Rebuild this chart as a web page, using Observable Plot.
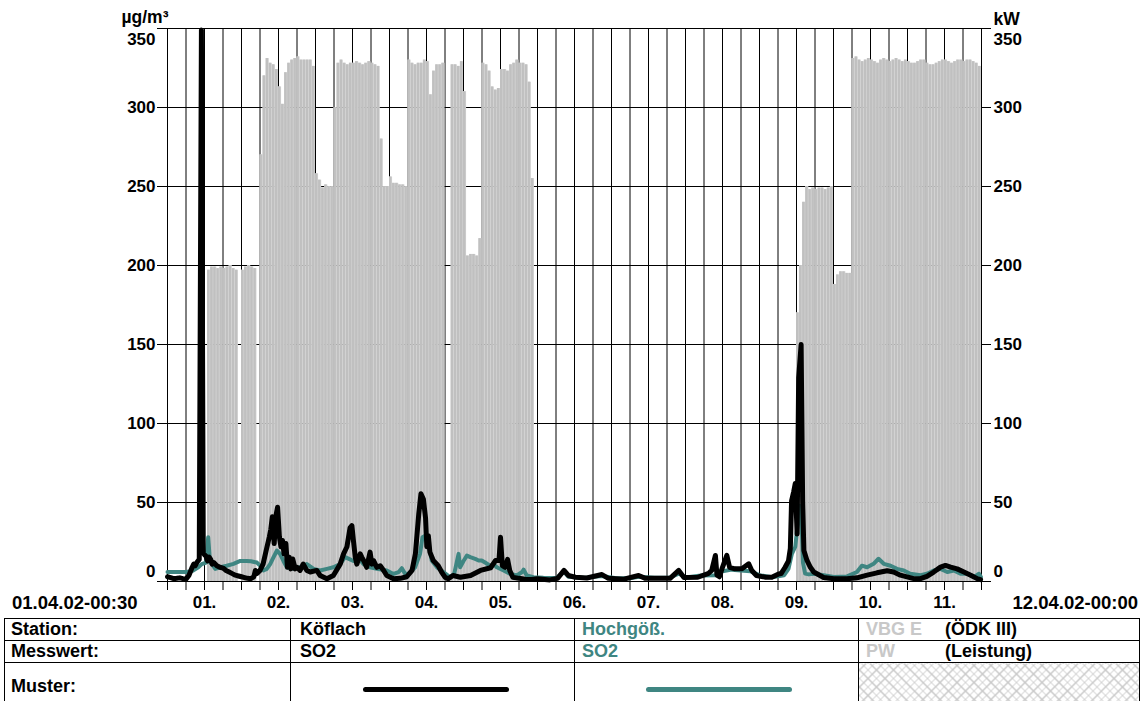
<!DOCTYPE html>
<html>
<head>
<meta charset="utf-8">
<script src="https://cdn.jsdelivr.net/npm/d3@7"></script>
<script src="https://cdn.jsdelivr.net/npm/@observablehq/plot@0.6"></script>
<style>
  html, body { margin: 0; padding: 0; background: #fff; }
  body { width: 1142px; height: 701px; overflow: hidden; position: relative; font-family: "Liberation Sans", Arial, sans-serif; }
  #chart { position: absolute; left: 0; top: 0; }
  table.leg { position: absolute; left: 4px; top: 618px; border-collapse: collapse; table-layout: fixed; width: 1135px; font-weight: bold; font-size: 18px; }
  table.leg td { border: 1px solid #000; padding: 0 0 0 6px; height: 21px; line-height: 21px; white-space: nowrap; overflow: hidden; }
  table.leg td.c2 { padding-left: 9px; }
  table.leg td.c3 { padding-left: 7px; }
  table.leg td.c4 { padding-left: 7px; }
  table.leg tr.last td { height: 44px; }
  .teal { color: #3f8682; }
  .gray { color: #c8c8c8; display: inline-block; width: 79px; }
  .sample { height: 5px; width: 146px; border-radius: 3px; position: relative; top: -3px; }
  .hatch { background:
      repeating-linear-gradient(45deg, #c8c8c8 0 1px, transparent 1px 6px),
      repeating-linear-gradient(-45deg, #c8c8c8 0 1px, transparent 1px 6px); }
</style>
</head>
<body>
<div id="chart"></div>
<table class="leg">
  <colgroup><col style="width:286px"><col style="width:284px"><col style="width:284px"><col style="width:281px"></colgroup>
  <tr><td>Station:</td><td class="c2">Köflach</td><td class="c3 teal">Hochgöß.</td><td class="c4"><span class="gray">VBG E</span>(ÖDK III)</td></tr>
  <tr><td>Messwert:</td><td class="c2">SO2</td><td class="c3 teal">SO2</td><td class="c4"><span class="gray">PW</span>(Leistung)</td></tr>
  <tr class="last"><td style="vertical-align:top;padding-top:14px;line-height:18px">Muster:</td><td><div class="sample" style="background:#000;margin-left:66px"></div></td><td><div class="sample" style="background:#3f8682;margin-left:65px"></div></td><td class="hatch"></td></tr>
</table>
<script>
// ---------- data ----------
// hourly power of VBG E (ÖDK III), kW; index = hour since 01.04.02 00:00
const pwDay01 = [0,0,0,0,0,0,0,0,0,0,0,0,0,197,199,199,198,199,198,199,200,198,197,0];
const pwDay02 = [197,199,200,199,198,0,270,320,331,328,327,324,313,302,322,328,330,331,332,330,330,330,330,326];
const pwDay03 = [258,254,249,251,250,250,300,328,330,328,327,328,328,329,328,327,328,329,328,327,326,280,250,250];
const pwDay04 = [256,252,252,251,251,250,330,328,327,328,328,330,329,308,323,327,327,328,0,0,327,327,326,329];
const pwDay05 = [310,206,207,207,206,217,328,327,323,313,311,312,324,324,323,327,328,330,328,328,327,316,255,0];
const pwDay06 = [0,0,0,0,0,0,0,0,0,0,0,0,0,0,0,0,0,0,0,0,0,0,0,0];
const pwDay07 = [0,0,0,0,0,0,0,0,0,0,0,0,0,0,0,0,0,0,0,0,0,0,0,0];
const pwDay08 = [0,0,0,0,0,0,0,0,0,0,0,0,0,0,0,0,0,0,0,0,0,0,0,0];
const pwDay09 = [0,0,0,0,0,0,0,0,0,0,0,0,170,200,240,250,248,249,248,249,249,248,249,250];
const pwDay10 = [188,194,196,196,195,195,331,332,330,329,330,331,330,329,328,330,331,330,329,330,331,330,329,330];
const pwDay11 = [329,328,328,329,330,330,328,327,327,328,329,330,330,329,328,329,330,330,329,330,330,329,328,326];

// SO2 Köflach, µg/m³: [hour, value]
const koeflach = [
 [0,3],[1,2.5],[2,1.8],[3,2],[4,2.3],[5,1.8],[6,1.5],[7,4],[8,9],[8.5,11],[9,10],[9.5,12],[10.3,14],[11,349],[11.6,18],
 [12,17],[12.5,16],[13,13],[13.5,15.5],[14,14],[14.5,11],[15,12],[16,10],[17,9],[18,8.5],[19,7],[20,6],[21,5],[22,4],[23,3.5],
 [24,3],[25,2.5],[26,2],[27,1.8],[28,3],[28.5,7],[29,5],[29.5,6],[30,7],[31,11],[32,19.6],[33,28],[33.5,33],[34,41],[34.6,24],
 [35.2,42],[35.7,47],[36.3,28],[36.8,22],[37.3,26],[37.8,17.5],[38.4,24],[38.9,9],[39.5,15.4],[40,8],[40.6,14.3],[41.4,8],
 [42,9],[43,7],[44,11],[45.2,7],[46.3,6],[48.4,7],[49.5,3.8],[51.7,1.7],[53.8,3.8],[56,11],[57.1,17.5],[58.2,22],[59.2,34],
 [59.8,35.4],[60.3,26],[60.9,15.4],[61.4,11],[62.5,17.5],[63,15.4],[63.6,13.3],[64.6,9],[65.7,18.6],[66.3,11],[66.8,13.3],
 [67.9,9],[69,10],[70.1,7],[71.1,3.8],[73.3,1.7],[75.5,2],[77.6,3],[79.3,7],[80.4,17.5],[81.5,43],[82.2,55.5],[83,52],
 [83.7,40],[84.1,22],[84.6,29],[85.1,18.6],[86.2,13.3],[87.8,10],[88.9,6],[90,2.7],[91,1.7],[92.6,3.8],[95,2.7],[98.3,3.8],
 [101.5,7],[104.8,8.7],[106.4,13.3],[107.5,13.3],[108,28],[108.6,10],[109.5,9],[110.3,14],[111,7],[112,2.7],[114,2],
 [116,1.5],[118,1.2],[120,1.7],[124,1],[126.5,2],[128.6,7],[130,3.8],[132.3,2.7],[136,2.2],[140.9,4.4],[143,2],[148,1.5],
 [152.8,3.8],[155,2],[160,2],[163,2],[165.8,7],[167.5,2.5],[172,2.7],[175.5,5.2],[176.5,7],[177.7,16.5],[178.2,4],[179,3],
 [180,9],[181.4,16.5],[182.3,9],[184,8],[186.3,8],[188.5,11.2],[189.5,7],[191,3.8],[194,2.7],[196,2.7],[198.2,4.8],[199,5],
 [200.3,9],[201.4,13],[202,21],[202.4,51],[203.1,57],[203.6,62],[204.2,30],[204.7,129],[205.5,150],[206,50],[206.4,19.6],
 [207.4,13.3],[208.5,9],[209.6,6],[212.8,2.5],[216.1,1.8],[220.4,1.8],[223.6,2.3],[226.9,4],[230.1,5.5],[233.4,6.8],
 [235.5,6],[237.7,4],[242,1.8],[244.2,1.8],[246.3,3.3],[248.5,6],[250.7,9.1],[252.3,10.2],[254,9.1],[256.1,8],[258.3,6],
 [260.5,4],[262.6,1.8],[263.7,1.2]
];

// SO2 Hochgößnitz, µg/m³: [hour, value]
const hochgoess = [
 [0,6],[3,6],[6.3,6],[8.4,7],[10,9],[11.1,11],[12.5,12],[13.2,28],[13.8,12],[14.4,11],[15.5,8],[17.1,9],[19.2,10],[21.4,11.2],
 [23.6,13],[25.7,13],[27,12.8],[29,12],[30,10],[31.1,7],[32.2,8],[33.3,11],[34.4,15.4],[35.5,19.6],[36.5,17.5],[37.6,13],
 [38.7,9],[40.9,8],[43,9],[45.2,11],[47.4,8],[49.5,7],[51.7,8],[53.8,9],[56,11],[57.6,15.4],[59.2,14],[60.3,13],[61.9,15],
 [63.6,11],[65.7,9],[67.9,8],[71.1,7],[73.3,4.8],[75,6],[76,8.4],[77,5],[78.2,4.8],[80.3,9],[81.9,17.5],[82.7,28],[83.6,29],
 [84.6,24],[85.7,13.3],[87.4,9],[89.5,6],[91.7,2.7],[93,5],[93.8,12],[94.4,17.5],[94.9,9],[96,13],[97.1,16.4],[98.2,15.4],
 [99.8,14.3],[100.9,13.3],[101.9,13.3],[103,12],[104.6,10],[105.7,11],[106.8,9],[109,7],[111.2,4.8],[113.3,3.8],[115,6],
 [115.5,7.5],[116.5,3.8],[118.7,2.7],[121.9,2.3],[126,2.2],[128.6,6],[130,3],[135,2.3],[140.9,3.5],[145,2.2],[150,2],
 [152.8,3],[158,2.3],[163,2.5],[165.8,5],[168,2.5],[173,3.8],[177.7,4],[180,6.5],[183,7.5],[186,7],[189,6.5],[192,4],
 [196,2.7],[200,4],[201.4,8],[202.5,17.5],[203.6,22],[204.3,35],[205,48],[205.6,40],[206.1,12],[206.8,5],[208,4.5],
 [209.6,4.9],[212.8,4],[216.1,2.8],[220.4,3.2],[223.6,6],[225.2,10],[226.9,9],[229,11.2],[230.6,14.4],[232.3,11.2],
 [234.5,10],[236.6,8],[238.8,7],[240.9,4.9],[244.2,4],[246.3,4.9],[248.5,7],[250.7,8],[252.9,6],[255,7],[257.2,4.9],
 [259.4,4.9],[261.5,2.8],[263.2,4.9],[263.8,2.8]
];

// tick labels
const yTicks = [0, 50, 100, 150, 200, 250, 300, 350];
const dayLabels = ["01.", "02.", "03.", "04.", "05.", "06.", "07.", "08.", "09.", "10.", "11."];
const startLabel = "01.04.02-00:30";
const endLabel = "12.04.02-00:00";
const leftUnit = "µg/m³";
const rightUnit = "kW";

// ---------- build ----------
const pw = [].concat(pwDay01, pwDay02, pwDay03, pwDay04, pwDay05, pwDay06, pwDay07, pwDay08, pwDay09, pwDay10, pwDay11)
  .map((v, h) => ({h, v})).filter(d => d.v > 0);
const koef = koeflach.map(([h, v]) => ({h, v}));
const hoch = hochgoess.map(([h, v]) => ({h, v}));
const totalHours = 264;
const gridX = d3.range(0, totalHours + 1, 6);
const noon = dayLabels.map((_, i) => 12 + 24 * i);
const dayLabelOf = new Map(noon.map((h, i) => [h, dayLabels[i]]));
const midTicks = yTicks.slice(1, -1);
const font = {fontSize: 17, fontWeight: "bold", label: null};
const dateFont = {fontSize: 18.5, fontWeight: "bold", label: null};
const teal = "#3f8682";

const chart = Plot.plot({
  width: 1142,
  height: 618,
  marginLeft: 167,
  marginRight: 161,
  marginTop: 28,
  marginBottom: 37,
  style: {fontFamily: "'Liberation Sans', Arial, sans-serif", fontSize: "17px", fontWeight: "bold", color: "#000", background: "#fff", overflow: "visible"},
  x: {domain: [0, totalHours], label: null},
  y: {domain: [0, 350], label: null},
  marks: [
    Plot.ruleX(gridX, {stroke: "#000", strokeWidth: 1}),
    Plot.ruleY(yTicks, {stroke: "#000", strokeWidth: 1}),
    Plot.rectY(pw, {x1: "h", x2: d => d.h + 1, y: "v", fill: "#d2d2d2"}),
    Plot.rectY(pw, {x1: "h", x2: d => d.h + 1, y: "v", fill: "#c0c0c0", insetRight: 0.7}),
    Plot.line(hoch, {x: "h", y: "v", stroke: teal, strokeWidth: 4, strokeLinejoin: "round", strokeLinecap: "round"}),
    Plot.line(koef, {x: "h", y: "v", stroke: "#000", strokeWidth: 5, strokeLinejoin: "round", strokeLinecap: "round"}),
    // y axes: tick marks
    Plot.axisY({anchor: "left", ticks: yTicks, tickSize: 10, tickFormat: () => "", stroke: "#000", label: null}),
    Plot.axisY({anchor: "right", ticks: yTicks, tickSize: 9, tickFormat: () => "", stroke: "#000", label: null}),
    // y axes: labels
    Plot.axisY({anchor: "left", ticks: midTicks, tickSize: 0, tickPadding: 12, ...font}),
    Plot.axisY({anchor: "left", ticks: [350], tickSize: 0, tickPadding: 12, dy: 11, ...font}),
    Plot.axisY({anchor: "left", ticks: [0], tickSize: 0, tickPadding: 12, dy: -10, ...font}),
    Plot.axisY({anchor: "right", ticks: midTicks, tickSize: 0, tickPadding: 12, ...font}),
    Plot.axisY({anchor: "right", ticks: [350], tickSize: 0, tickPadding: 12, dy: 11, ...font}),
    Plot.axisY({anchor: "right", ticks: [0], tickSize: 0, tickPadding: 12, dy: -10, ...font}),
    // x axis: ticks and labels
    Plot.axisX({ticks: gridX, tickSize: 9, tickFormat: () => "", stroke: "#000", label: null}),
    Plot.axisX({ticks: noon, tickSize: 0, tickPadding: 14, tickFormat: d => dayLabelOf.get(d), ...font}),
    Plot.axisX({ticks: [0], tickSize: 0, tickPadding: 14, tickFormat: () => startLabel, textAnchor: "end", dx: -30, ...dateFont}),
    Plot.axisX({ticks: [totalHours], tickSize: 0, tickPadding: 14, tickFormat: () => endLabel, textAnchor: "start", dx: 31, ...dateFont}),
    // units
    Plot.text([leftUnit], {frameAnchor: "top-left", textAnchor: "end", lineAnchor: "bottom", dx: 1, dy: -6, fontSize: 17.5, fontWeight: "bold"}),
    Plot.text([rightUnit], {frameAnchor: "top-right", textAnchor: "start", lineAnchor: "bottom", dx: 12, dy: -4, fontSize: 17.5, fontWeight: "bold"})
  ]
});
document.getElementById("chart").appendChild(chart);
</script>
</body>
</html>
